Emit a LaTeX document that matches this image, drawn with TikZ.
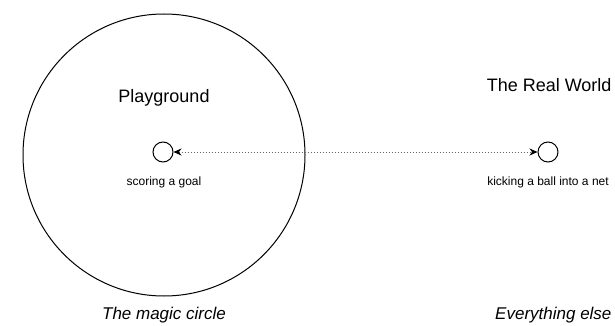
\documentclass[tikz,border=0pt]{standalone}
\usepackage{fontspec}
\setmainfont{Liberation Sans}
\usetikzlibrary{arrows.meta}
\begin{document}
\begin{tikzpicture}[x=1pt,y=-1pt,
  big/.style={font=\fontsize{18}{20}\selectfont},
  small/.style={font=\fontsize{12}{14}\selectfont},
  caption/.style={font=\fontsize{17}{20}\selectfont\itshape},
  dot/.style={draw, circle, line width=1pt, minimum size=20pt, inner sep=0pt},
  link/.style={draw=black!60, dotted, line width=1pt, {Stealth[length=8pt,width=7pt,black]}-{Stealth[length=8pt,width=7pt,black]}}]
\useasboundingbox (0,0) rectangle (615,326);
\node[draw, circle, line width=1pt, minimum size=282pt, inner sep=0pt] (magic) at (164,155) {};
\node[big] (play) at (164,98) {Playground};
\node[dot] (goal) at (163,152) {};
\node[small] (goallbl) at (164,182) {scoring a goal};
\node[big, anchor=east] (real) at (615,85) {The Real World};
\node[dot] (kick) at (548,152) {};
\node[small] (kicklbl) at (548,182) {kicking a ball into a net};
\node[caption] (magiclbl) at (164,315) {The magic circle};
\node[caption, anchor=east] (elselbl) at (615,315) {Everything else};
\draw[link] (goal) -- (kick);
\end{tikzpicture}
\end{document}
